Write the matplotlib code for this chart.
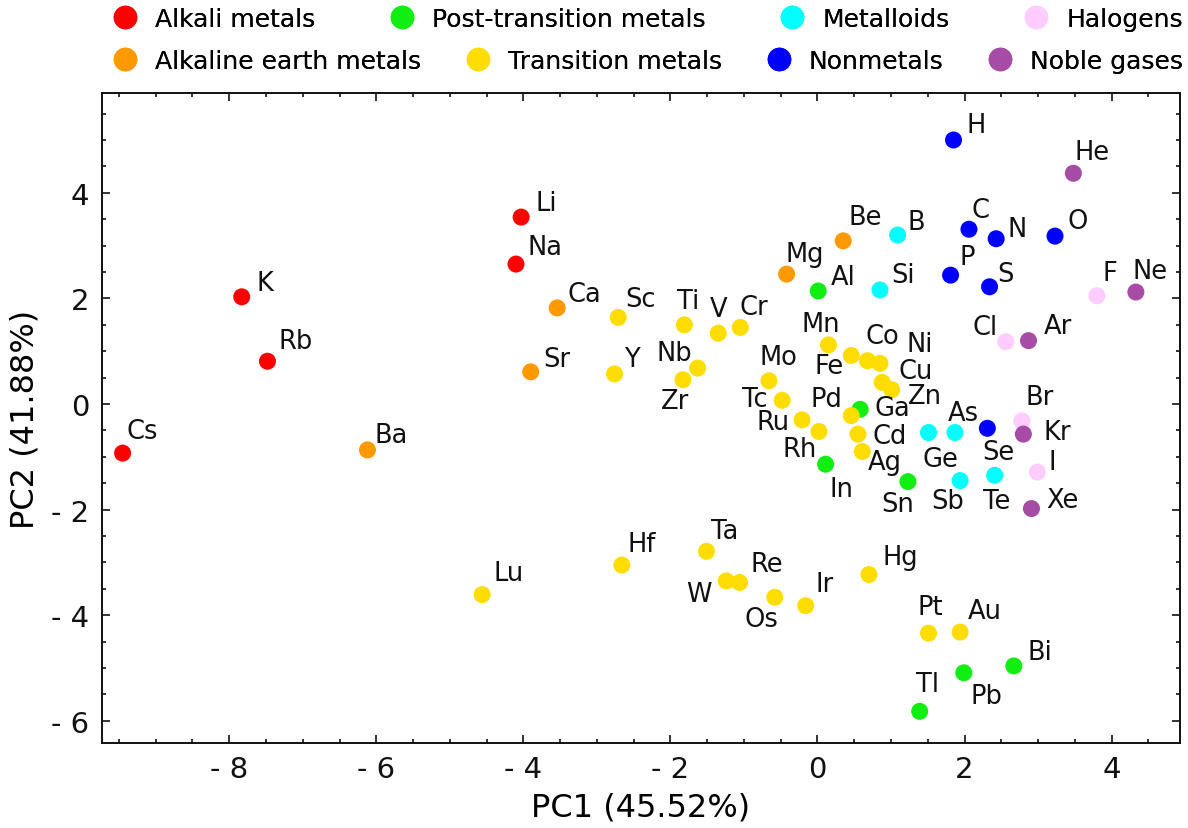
import matplotlib
matplotlib.use("Agg")
import matplotlib.pyplot as plt
from matplotlib.lines import Line2D
from matplotlib.ticker import MultipleLocator, FuncFormatter

# ---------------- data ----------------
elements = ["H", "He", "Li", "Be", "B", "C", "N", "O", "F", "Ne",
            "Na", "Mg", "Al", "Si", "P", "S", "Cl", "Ar",
            "K", "Ca", "Sc", "Ti", "V", "Cr", "Mn", "Fe", "Co", "Ni", "Cu", "Zn",
            "Ga", "Ge", "As", "Se", "Br", "Kr",
            "Rb", "Sr", "Y", "Zr", "Nb", "Mo", "Tc", "Ru", "Rh", "Pd", "Ag", "Cd",
            "In", "Sn", "Sb", "Te", "I", "Xe",
            "Cs", "Ba", "Lu", "Hf", "Ta", "W", "Re", "Os", "Ir", "Pt", "Au", "Hg",
            "Tl", "Pb", "Bi"]

groups = ["Nonmetals", "Noble gases", "Alkali metals", "Alkaline earth metals", "Metalloids",
          "Nonmetals", "Nonmetals", "Nonmetals", "Halogens", "Noble gases",
          "Alkali metals", "Alkaline earth metals", "Post-transition metals", "Metalloids",
          "Nonmetals", "Nonmetals", "Halogens", "Noble gases",
          "Alkali metals", "Alkaline earth metals", "Transition metals", "Transition metals",
          "Transition metals", "Transition metals", "Transition metals", "Transition metals",
          "Transition metals", "Transition metals", "Transition metals", "Transition metals",
          "Post-transition metals", "Metalloids", "Metalloids", "Nonmetals", "Halogens",
          "Noble gases",
          "Alkali metals", "Alkaline earth metals", "Transition metals", "Transition metals",
          "Transition metals", "Transition metals", "Transition metals", "Transition metals",
          "Transition metals", "Transition metals", "Transition metals", "Transition metals",
          "Post-transition metals", "Post-transition metals", "Metalloids", "Metalloids",
          "Halogens", "Noble gases",
          "Alkali metals", "Alkaline earth metals", "Transition metals", "Transition metals",
          "Transition metals", "Transition metals", "Transition metals", "Transition metals",
          "Transition metals", "Transition metals", "Transition metals", "Transition metals",
          "Post-transition metals", "Post-transition metals", "Post-transition metals"]

pc1 = [1.85, 3.48, -4.03, 0.35, 1.09, 2.06, 2.43, 3.23, 3.80, 4.33,
       -4.10, -0.42, 0.01, 0.85, 1.81, 2.34, 2.56, 2.87,
       -7.83, -3.54, -2.71, -1.81, -1.35, -1.05, 0.15, 0.46, 0.68, 0.85, 0.88, 1.01,
       0.58, 1.51, 1.87, 2.31, 2.78, 2.80,
       -7.48, -3.90, -2.76, -1.83, -1.63, -0.66, -0.48, -0.21, 0.02, 0.46, 0.61, 0.55,
       0.11, 1.23, 1.94, 2.41, 2.99, 2.91,
       -9.45, -6.12, -4.56, -2.66, -1.51, -1.24, -1.06, -0.58, -0.16, 1.51, 1.94, 0.70,
       1.39, 1.99, 2.67]

pc2 = [5.00, 4.37, 3.54, 3.09, 3.20, 3.31, 3.13, 3.18, 2.05, 2.12,
       2.65, 2.46, 2.14, 2.16, 2.44, 2.22, 1.18, 1.20,
       2.03, 1.82, 1.64, 1.50, 1.34, 1.45, 1.12, 0.92, 0.82, 0.77, 0.41, 0.27,
       -0.10, -0.54, -0.54, -0.46, -0.32, -0.57,
       0.81, 0.61, 0.57, 0.46, 0.68, 0.44, 0.07, -0.30, -0.52, -0.22, -0.90, -0.57,
       -1.14, -1.47, -1.45, -1.35, -1.29, -1.98,
       -0.93, -0.87, -3.61, -3.05, -2.79, -3.35, -3.38, -3.66, -3.82, -4.34, -4.32, -3.23,
       -5.82, -5.09, -4.96]

legend_row1 = ["Alkali metals", "Post-transition metals", "Metalloids", "Halogens"]
legend_row2 = ["Alkaline earth metals", "Transition metals", "Nonmetals", "Noble gases"]

x_label = "PC1 (45.52%)"
y_label = "PC2 (41.88%)"

# ---------------- style ----------------
colors = {
    "Alkali metals": "#FF0000",
    "Alkaline earth metals": "#FF9900",
    "Post-transition metals": "#11EE11",
    "Transition metals": "#FFDD00",
    "Metalloids": "#00FFFF",
    "Nonmetals": "#0000FF",
    "Halogens": "#FFCCFF",
    "Noble gases": "#A64CA6",
}

# label offsets in pixels (dx right, dy down) from point centre
offsets = {
    "H": (23, -15), "He": (19, -21), "Li": (25, -14), "Be": (22, -24), "B": (19, -13),
    "C": (12, -19), "N": (21, -10), "O": (23, -15), "F": (13, -23), "Ne": (14, -21),
    "Na": (29, -17), "Mg": (18, -20), "Al": (25, -14), "Si": (23, -15), "P": (17, -18),
    "S": (16, -13), "Cl": (-21, -15), "Ar": (29, -15),
    "K": (23, -14), "Ca": (27, -14), "Sc": (22, -18), "Ti": (4, -24), "V": (0, -24),
    "Cr": (14, -20), "Mn": (-8, -21), "Fe": (-22, 11), "Co": (15, -25), "Ni": (40, -19),
    "Cu": (33, -11), "Zn": (33, 6), "Ga": (32, -1), "Ge": (12, 26), "As": (8, -20),
    "Se": (11, 24), "Br": (18, -24), "Kr": (34, -2),
    "Rb": (28, -20), "Sr": (26, -13), "Y": (17, -15), "Zr": (-8, 21), "Nb": (-23, -15),
    "Mo": (9, -24), "Tc": (-27, -1), "Ru": (-29, 2), "Rh": (-19, 18), "Pd": (-25, -17),
    "Ag": (22, 10), "Cd": (32, 2), "In": (16, 25), "Sn": (-10, 22), "Sb": (-13, 20),
    "Te": (2, 26), "I": (15, -10), "Xe": (31, -9),
    "Cs": (20, -22), "Ba": (24, -15), "Lu": (26, -22), "Hf": (20, -21), "Ta": (18, -20),
    "W": (-27, 13), "Re": (27, -18), "Os": (-13, 22), "Ir": (19, -22), "Pt": (2, -26),
    "Au": (25, -21), "Hg": (31, -18), "Tl": (8, -27), "Pb": (23, 23), "Bi": (26, -14),
}

W, H = 1188, 829
fig = plt.figure(figsize=(W / 100, H / 100), dpi=100)
ax = fig.add_axes([102 / W, 1 - 744 / H, (1180 - 102) / W, (744 - 94) / H])

point_colors = [colors[g] for g in groups]
ax.scatter(pc1, pc2, s=150, c=point_colors, edgecolors="none", zorder=3)

for el, x, y in zip(elements, pc1, pc2):
    dx, dy = offsets.get(el, (18, -16))
    ax.annotate(el, (x, y), xytext=(dx, -dy), textcoords="offset pixels",
                ha="center", va="center", fontsize=18.5, color="#111111", zorder=4)

ax.set_xlim(-9.73, 4.93)
ax.set_ylim(-6.42, 5.89)

def fmt(v, pos):
    iv = int(round(v))
    return f"- {abs(iv)}" if iv < 0 else f"{iv}"

ax.xaxis.set_major_locator(MultipleLocator(2))
ax.xaxis.set_minor_locator(MultipleLocator(0.5))
ax.yaxis.set_major_locator(MultipleLocator(2))
ax.yaxis.set_minor_locator(MultipleLocator(0.5))
ax.xaxis.set_major_formatter(FuncFormatter(fmt))
ax.yaxis.set_major_formatter(FuncFormatter(fmt))
ax.tick_params(which="both", direction="in", top=True, right=True, width=1.2,
               labelsize=21, colors="#111111")
ax.tick_params(which="major", length=6, pad=9)
ax.tick_params(which="minor", length=3)
for sp in ax.spines.values():
    sp.set_linewidth(1.4)
    sp.set_color("#111111")

ax.set_xlabel(x_label, fontsize=23, labelpad=6)
ax.set_ylabel(y_label, fontsize=23, labelpad=8)

def make_handles(names):
    return [Line2D([], [], marker="o", linestyle="none", markersize=17,
                   markerfacecolor=colors[n], markeredgecolor="none") for n in names]

x0 = 112.5 / W
wid = 1183 / W - x0
for names, yc in ((legend_row1, 20), (legend_row2, 62)):
    leg = fig.legend(make_handles(names), names, loc="center left",
                     bbox_to_anchor=(x0, 1 - yc / H, wid, 0), mode="expand", ncol=4,
                     frameon=False, fontsize=18, handlelength=1.0, handletextpad=0.7,
                     borderpad=0, borderaxespad=0, columnspacing=1.0)
    fig.add_artist(leg)

fig.savefig("out.png", dpi=100)
